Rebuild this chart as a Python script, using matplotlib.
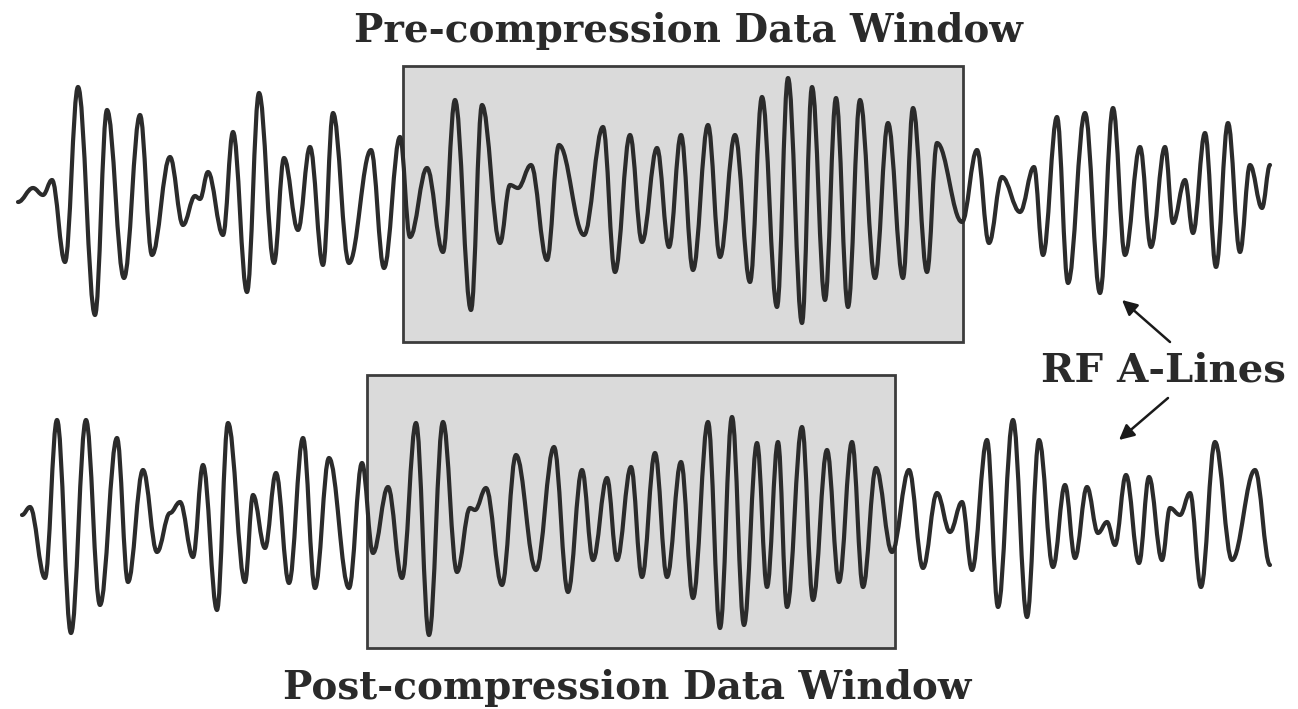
"""Pre/post compression RF A-line diagram with data windows."""

import matplotlib

matplotlib.use("Agg")
import matplotlib.pyplot as plt
from matplotlib.patches import PathPatch, Rectangle
from matplotlib.path import Path

# extrema of the upper (pre-compression) A-line: sample position, amplitude (up = positive)
TOP_T = [18, 33, 43, 52, 65, 78, 95, 107, 124, 140, 152, 170, 183, 195, 200, 208, 223, 233, 247, 259,
         274, 284, 298, 310, 323, 333, 349, 371, 384, 400, 410, 427, 443, 455, 471, 482, 500, 510, 518,
         531, 547, 559, 584, 603, 615, 630, 642, 657, 669, 681, 693, 708, 720, 735, 750, 762, 777, 788,
         802, 812, 825, 836, 848, 860, 875, 888, 903, 913, 927, 937, 962, 977, 989, 1002, 1020, 1034,
         1043, 1057, 1068, 1085, 1100, 1113, 1125, 1140, 1151, 1165, 1173, 1185, 1193, 1205, 1216, 1228,
         1240, 1250, 1262, 1270]
TOP_AMP = [-2, 12, 5, 20, -62, 113, -115, 90, -78, 85, -55, 43, -25, 4, 1, 28, -35, 68, -92, 107,
           -63, 42, -30, 53, -65, 87, -63, 50, -68, 63, -37, 32, -52, 100, -110, 95, -43, 15, 12,
           35, -60, 55, -35, 73, -72, 65, -42, 52, -47, 65, -70, 75, -57, 65, -82, 103, -107, 122,
           -123, 113, -100, 102, -107, 100, -78, 77, -78, 92, -72, 57, -22, 50, -43, 23, -12, 33,
           -55, 83, -83, 87, -93, 92, -55, 53, -47, 53, -23, 20, -33, 67, -67, 77,
           -52, 35, -8, 35]

# extrema of the lower (post-compression) A-line
BOT_T = [22, 30, 45, 57, 71, 86, 100, 117, 128, 143, 157, 170, 180, 193, 203, 217, 228, 245, 253, 265,
         276, 289, 303, 315, 329, 349, 362, 373, 388, 402, 416, 429, 443, 457, 470, 475, 486, 502, 516,
         536, 554, 568, 582, 593, 607, 617, 631, 642, 655, 667, 681, 693, 708, 720, 732, 744, 757, 767,
         778, 787, 802, 813, 827, 839, 852, 863, 876, 892, 909, 923, 937, 950, 962, 972, 987, 998, 1013,
         1027, 1039, 1053, 1065, 1075, 1087, 1098, 1107, 1115, 1126, 1139, 1149, 1162, 1170, 1180, 1190,
         1201, 1215, 1232, 1255, 1270]
BOT_AMP = [10, 18, -53, 105, -108, 105, -80, 87, -57, 55, -27, 12, 23, -32, 60, -85, 102, -57, 30, -23,
           52, -58, 87, -63, 67, -63, 62, -28, 38, -53, 102, -110, 103, -47, 17, 15, 37, -60, 70,
           -45, 78, -67, 55, -35, 47, -35, 58, -52, 72, -52, 63, -73, 103, -103, 108, -100, 82, -62,
           83, -82, 98, -75, 75, -57, 83, -62, 57, -27, 55, -43, 32, -7, 23, -45, 85, -82, 105,
           -92, 85, -42, 40, -33, 38, -8, 3, -20, 50, -38, 48, -35, 17, 10, 32,
           -62, 83, -35, 55, -40]

TOP_CENTER = 200
BOT_CENTER = 525

# data windows: (start, end) along the line
TOP_WINDOW = (403, 963)
BOT_WINDOW = (367, 895)


def wave_path(t, amp, center):
    """Smooth curve through extrema, horizontal tangent at each one."""
    ys = [center - a for a in amp]
    verts = [(t[0], ys[0])]
    codes = [Path.MOVETO]
    for i in range(1, len(t)):
        dx = t[i] - t[i - 1]
        verts += [(t[i - 1] + 0.38 * dx, ys[i - 1]), (t[i] - 0.38 * dx, ys[i]), (t[i], ys[i])]
        codes += [Path.CURVE4] * 3
    return Path(verts, codes)


fig = plt.figure(figsize=(12.98, 7.09), dpi=100)
ax = fig.add_axes([0, 0, 1, 1])
ax.set_xlim(0, 1298)
ax.set_ylim(709, 0)
ax.axis("off")

box_kw = dict(facecolor="#dadada", edgecolor="#3c3c3c", linewidth=2.0, zorder=1)
ax.add_patch(Rectangle((TOP_WINDOW[0], 66), TOP_WINDOW[1] - TOP_WINDOW[0], 276, **box_kw))
ax.add_patch(Rectangle((BOT_WINDOW[0], 375), BOT_WINDOW[1] - BOT_WINDOW[0], 273, **box_kw))

line_kw = dict(facecolor="none", edgecolor="#2b2b2b", linewidth=3.0, capstyle="round",
               joinstyle="round", zorder=3)
ax.add_patch(PathPatch(wave_path(TOP_T, TOP_AMP, TOP_CENTER), **line_kw))
ax.add_patch(PathPatch(wave_path(BOT_T, BOT_AMP, BOT_CENTER), **line_kw))

text_kw = dict(family="DejaVu Serif", fontweight="bold", fontsize=28, color="#2a2a2a",
               ha="center", va="center")
ax.text(688, 31, "Pre-compression Data Window", **text_kw)
ax.text(627, 688, "Post-compression Data Window", **text_kw)
ax.text(1163, 371, "RF A-Lines", **{**text_kw, "fontsize": 29})

arrow_kw = dict(arrowstyle="-|>,head_length=0.9,head_width=0.45", color="#1a1a1a", lw=1.8,
                shrinkA=0, shrinkB=0)
ax.annotate("", xy=(1122, 300), xytext=(1170, 342), arrowprops=arrow_kw)
ax.annotate("", xy=(1119, 440), xytext=(1168, 398), arrowprops=arrow_kw)

fig.savefig("out.png", dpi=100, facecolor="white")
